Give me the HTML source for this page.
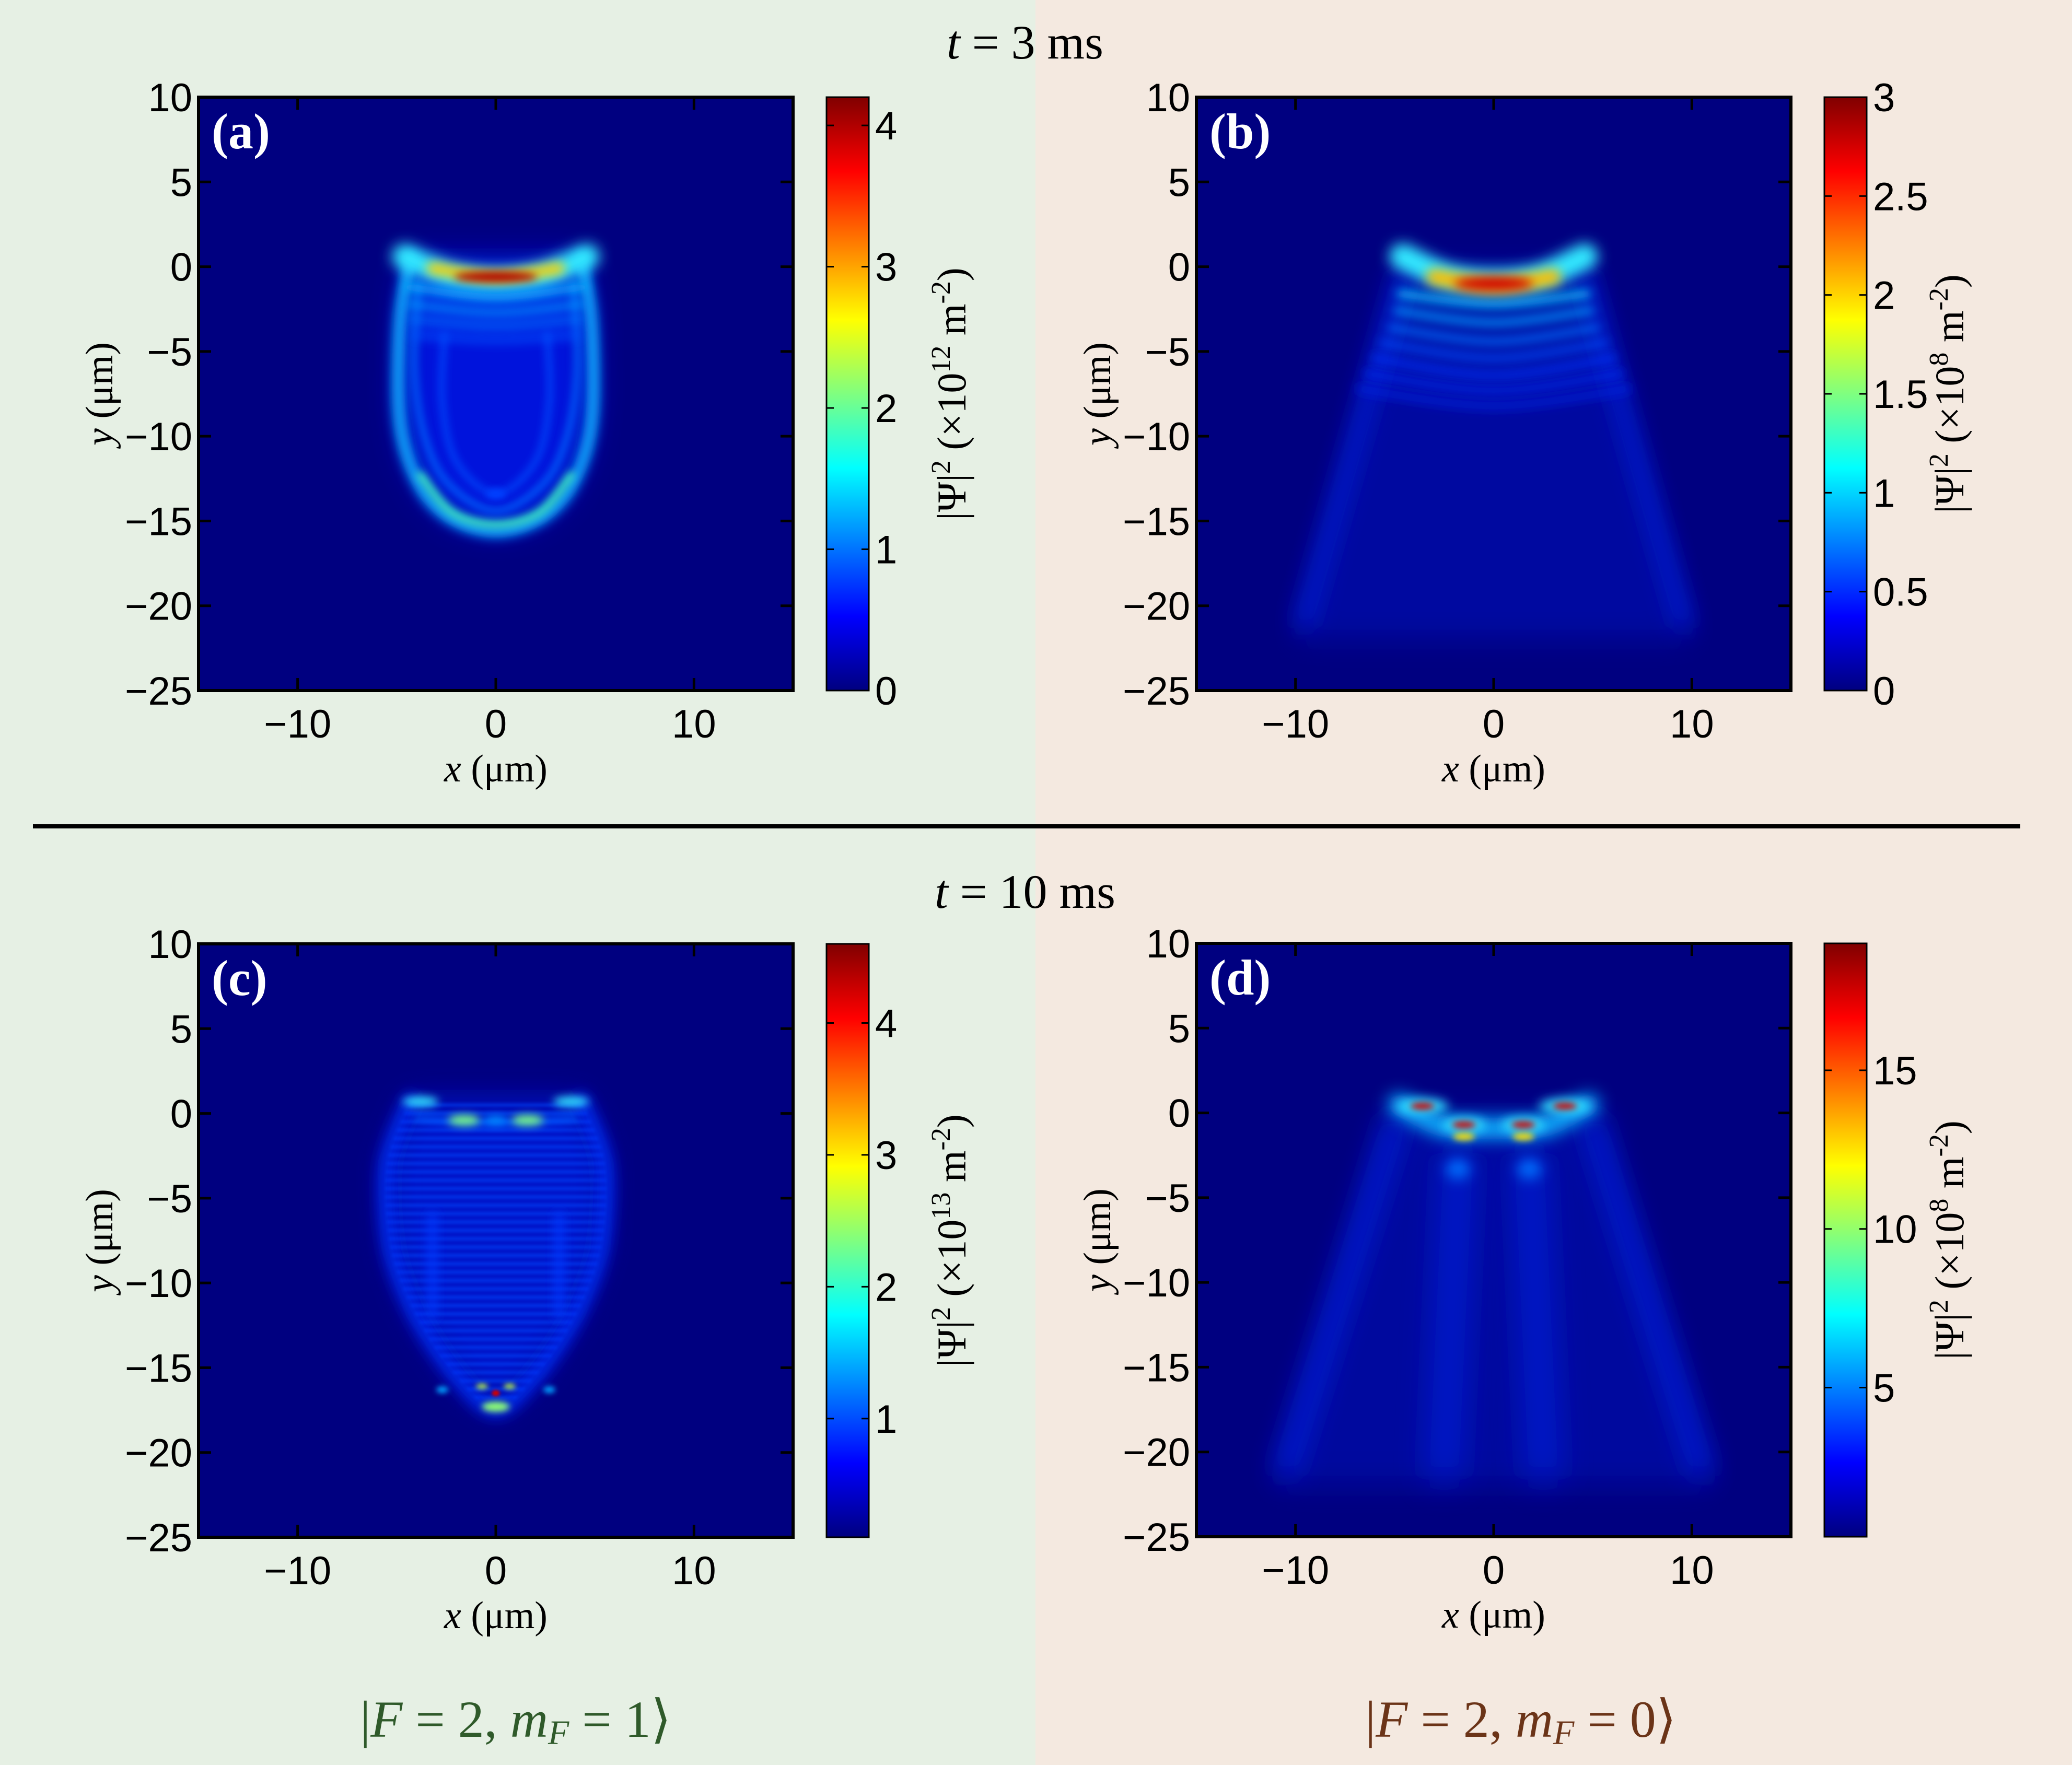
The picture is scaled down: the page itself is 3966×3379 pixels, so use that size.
<!DOCTYPE html>
<html><head><meta charset="utf-8"><style>
html,body{margin:0;padding:0;}
body{width:3966px;height:3379px;overflow:hidden;}
svg{display:block;}
.tk{font-family:"Liberation Sans",sans-serif;font-size:76px;fill:#000;}
.ser{font-family:"Liberation Serif",serif;fill:#000;}
</style></head><body>
<svg id="root" width="3966" height="3379" viewBox="0 0 3966 3379" xmlns="http://www.w3.org/2000/svg">
<defs>
<linearGradient id="jet" x1="0" y1="1" x2="0" y2="0">
<stop offset="0" stop-color="#000080"/><stop offset="0.125" stop-color="#0000ff"/>
<stop offset="0.375" stop-color="#00ffff"/><stop offset="0.625" stop-color="#ffff00"/>
<stop offset="0.875" stop-color="#ff0000"/><stop offset="1" stop-color="#800000"/>
</linearGradient>
<pattern id="stripes" width="20" height="16" patternUnits="userSpaceOnUse">
<rect width="20" height="7" fill="#0048ff" opacity="0.55"/>
</pattern>
</defs>
<rect x="0" y="0" width="1982" height="3379" fill="#e6f0e4"/>
<rect x="1982" y="0" width="1984" height="3379" fill="#f4e9e0"/>
<text class="ser" x="1962" y="112" font-size="92" text-anchor="middle"><tspan font-style="italic">t</tspan> = 3 ms</text>
<line x1="63" y1="1582" x2="3867" y2="1582" stroke="#000" stroke-width="8"/>
<text class="ser" x="1962" y="1738" font-size="92" text-anchor="middle"><tspan font-style="italic">t</tspan> = 10 ms</text>
<text class="ser" x="987" y="3325" font-size="100" text-anchor="middle" style="fill:#2f5a2a">|<tspan font-style="italic">F</tspan> = 2, <tspan font-style="italic">m</tspan><tspan font-style="italic" font-size="66" dy="14">F</tspan><tspan dy="-14"> = 1⟩</tspan></text>
<text class="ser" x="2911" y="3325" font-size="100" text-anchor="middle" style="fill:#6b3418">|<tspan font-style="italic">F</tspan> = 2, <tspan font-style="italic">m</tspan><tspan font-style="italic" font-size="66" dy="14">F</tspan><tspan dy="-14"> = 0⟩</tspan></text>
</svg>
<script>
const xTicks=[-10,0,10];
const yTicks=[10,5,0,-5,-10,-15,-20,-25];
const panelLabels=["(a)","(b)","(c)","(d)"];
const cbMin=[0,0,0.1,0.3];
const cbMax=[4.2,3.0,4.6,19];
const cbTicksA=[0,1,2,3,4];
const cbTicksB=[0,0.5,1,1.5,2,2.5,3];
const cbTicksC=[1,2,3,4];
const cbTicksD=[5,10,15];
const cbExp=["12","8","13","8"];
const aLines=[
 {pts:[[-4.3,0.5],[-4.8,-3],[-4.9,-8],[-4.5,-11],[-3.5,-13.5],[-2,-15],[0,-15.6],[2,-15],[3.5,-13.5],[4.5,-11],[4.9,-8],[4.8,-3],[4.3,0.5]],c:"#10a8ff",w:24,b:6},
 {pts:[[-3.8,-12.3],[-2.2,-14.5],[0,-15.2],[2.2,-14.5],[3.8,-12.3]],c:"#40f0c0",w:14,b:5},
 {pts:[[-3.9,-1],[-4.1,-6],[-3.6,-10],[-2.4,-12.8],[0,-14.4],[2.4,-12.8],[3.6,-10],[4.1,-6],[3.9,-1]],c:"#0068ff",w:11,b:5},
 {pts:[[-2.6,-4],[-2.7,-8],[-2,-11.5],[0,-13.4],[2,-11.5],[2.7,-8],[2.6,-4]],c:"#0050ff",w:9,b:5},
 {pts:[[-4.6,0.6],[-2.3,-0.5],[0,-0.8],[2.3,-0.5],[4.6,0.6]],c:"#30e8ff",w:48,b:8},
 {pts:[[-4.4,-1.2],[0,-1.8],[4.4,-1.2]],c:"#10b8ff",w:16,b:6},
 {pts:[[-4.4,-2.2],[0,-2.7],[4.4,-2.2]],c:"#0098ff",w:14,b:6},
 {pts:[[-4.3,-3.1],[0,-3.5],[4.3,-3.1]],c:"#0078ff",w:12,b:6},
 {pts:[[-4.2,-4],[0,-4.3],[4.2,-4]],c:"#0058ff",w:10,b:6},
 {pts:[[-3.2,-0.1],[0,-0.6],[3.2,-0.1]],c:"#ffd000",w:22,b:6}
];
const aBlobs=[{x:0,y:-0.6,rx:2.1,ry:0.32,c:"#b00000",b:5},{x:0,y:-13.4,rx:0.5,ry:0.3,c:"#0040ff",b:4}];
const aFill=[[-4.3,0.5],[-4.8,-3],[-4.9,-8],[-4.5,-11],[-3.5,-13.5],[-2,-15],[0,-15.6],[2,-15],[3.5,-13.5],[4.5,-11],[4.9,-8],[4.8,-3],[4.3,0.5]];
const bFill=[[-4.5,0],[4.5,0],[10,-22],[-10,-22]];
const bLines=[
 {pts:[[-4.6,-0.5],[-9.6,-21]],c:"#0028f0",w:22,b:14},
 {pts:[[4.6,-0.5],[9.6,-21]],c:"#0028f0",w:22,b:14},
 {pts:[[-6.8,-7.2],[0,-8.2],[6.8,-7.2]],c:"#0024e0",w:12,b:6},
 {pts:[[-6.4,-6.3],[0,-7.3],[6.4,-6.3]],c:"#002cf0",w:12,b:6},
 {pts:[[-6,-5.4],[0,-6.4],[6,-5.4]],c:"#0038ff",w:12,b:6},
 {pts:[[-5.6,-4.5],[0,-5.4],[5.6,-4.5]],c:"#0050ff",w:12,b:6},
 {pts:[[-5.2,-3.6],[0,-4.4],[5.2,-3.6]],c:"#0070ff",w:13,b:6},
 {pts:[[-4.9,-2.6],[0,-3.3],[4.9,-2.6]],c:"#0098ff",w:14,b:6},
 {pts:[[-4.7,-1.6],[0,-2.2],[4.7,-1.6]],c:"#10c0ff",w:16,b:6},
 {pts:[[-4.6,0.6],[-2.3,-0.6],[0,-0.9],[2.3,-0.6],[4.6,0.6]],c:"#30e8ff",w:50,b:8},
 {pts:[[-3,-0.6],[0,-1.1],[3,-0.6]],c:"#ffc000",w:30,b:7}
];
const bBlobs=[{x:0,y:-1,rx:2,ry:0.42,c:"#d00000",b:6}];
const cFill=[[-4.3,0.8],[-5.5,-3],[-5.3,-8],[-4,-12],[-2,-15.5],[0,-17.5],[2,-15.5],[4,-12],[5.3,-8],[5.5,-3],[4.3,0.8]];
const cLines=[
 {pts:[[-4.3,0.8],[-5.5,-3],[-5.3,-8],[-4,-12],[-2,-15.5],[0,-17.5],[2,-15.5],[4,-12],[5.3,-8],[5.5,-3],[4.3,0.8]],c:"#0030ff",w:22,b:9},
 {pts:[[-3.2,-6],[-3.2,-12]],c:"#0038ff",w:14,b:6},
 {pts:[[3.2,-6],[3.2,-12]],c:"#0038ff",w:14,b:6},
 {pts:[[-4,-0.3],[0,-0.6],[4,-0.3]],c:"#0058ff",w:12,b:5}
];
const cBlobs=[
 {x:-3.8,y:0.7,rx:0.9,ry:0.3,c:"#30e0ff",b:5},{x:3.8,y:0.7,rx:0.9,ry:0.3,c:"#30e0ff",b:5},
 {x:-1.6,y:-0.4,rx:0.8,ry:0.3,c:"#80ff80",b:5},{x:1.6,y:-0.4,rx:0.8,ry:0.3,c:"#80ff80",b:5},
 {x:0,y:-0.4,rx:0.6,ry:0.25,c:"#0090ff",b:5},
 {x:0,y:-17.3,rx:0.7,ry:0.3,c:"#90ff70",b:4},{x:0,y:-16.5,rx:0.2,ry:0.18,c:"#d00000",b:2},
 {x:-0.7,y:-16.1,rx:0.3,ry:0.15,c:"#c0ff40",b:3},{x:0.7,y:-16.1,rx:0.3,ry:0.15,c:"#c0ff40",b:3},
 {x:-2.7,y:-16.3,rx:0.3,ry:0.2,c:"#00a0ff",b:3},{x:2.7,y:-16.3,rx:0.3,ry:0.2,c:"#00a0ff",b:3}
];
const dFill=[[-5,0],[5,0],[11,-22],[-11,-22]];
const dLines=[
 {pts:[[-5,-0.5],[-10.5,-21]],c:"#0028f0",w:30,b:16},
 {pts:[[5,-0.5],[10.5,-21]],c:"#0028f0",w:30,b:16},
 {pts:[[-1.8,-3],[-2.5,-21]],c:"#0020e0",w:44,b:20},
 {pts:[[1.8,-3],[2.5,-21]],c:"#0020e0",w:44,b:20},
 {pts:[[-4.8,0.5],[-2.5,-0.8],[0,-0.9],[2.5,-0.8],[4.8,0.5]],c:"#10b0ff",w:40,b:10}
];
const dBlobs=[
 {x:-3.6,y:0.4,rx:1.3,ry:0.45,c:"#30e0ff",b:6},{x:3.6,y:0.4,rx:1.3,ry:0.45,c:"#30e0ff",b:6},
 {x:-1.5,y:-0.7,rx:1.1,ry:0.45,c:"#30e0ff",b:6},{x:1.5,y:-0.7,rx:1.1,ry:0.45,c:"#30e0ff",b:6},
 {x:-1.5,y:-1.4,rx:0.55,ry:0.22,c:"#ffe000",b:4},{x:1.5,y:-1.4,rx:0.55,ry:0.22,c:"#ffe000",b:4},
 {x:-3.6,y:0.4,rx:0.6,ry:0.2,c:"#d00000",b:4},{x:3.6,y:0.4,rx:0.6,ry:0.2,c:"#d00000",b:4},
 {x:-1.5,y:-0.7,rx:0.6,ry:0.2,c:"#d00000",b:4},{x:1.5,y:-0.7,rx:0.6,ry:0.2,c:"#d00000",b:4},
 {x:-1.8,y:-3.3,rx:0.6,ry:0.6,c:"#0070ff",b:8},{x:1.8,y:-3.3,rx:0.6,ry:0.6,c:"#0070ff",b:8}
];

const NS="http://www.w3.org/2000/svg";
const root=document.getElementById('root');
const defs=root.querySelector('defs');
const W=1138,H=1136, BM=1.6;
const panels=[
 {x0:380,y0:186,fill:aFill,fillC:"#0014e6",fo:0.9,lines:aLines,blobs:aBlobs,cb:cbTicksA,stripes:false},
 {x0:2290,y0:186,fill:bFill,fillC:"#0016c8",fo:0.45,lines:bLines,blobs:bBlobs,cb:cbTicksB,stripes:false},
 {x0:380,y0:1807,fill:cFill,fillC:"#0012d0",fo:0.9,lines:cLines,blobs:cBlobs,cb:cbTicksC,stripes:true},
 {x0:2290,y0:1806,fill:dFill,fillC:"#0016c4",fo:0.45,lines:dLines,blobs:dBlobs,cb:cbTicksD,stripes:false}
];
function mk(tag,attrs,parent){const e=document.createElementNS(NS,tag);for(const k in attrs)e.setAttribute(k,attrs[k]);(parent||root).appendChild(e);return e;}
const blurs={};
function blurId(b){b=Math.round(b*BM);if(!blurs[b]){const f=mk('filter',{id:'bl'+b,filterUnits:'userSpaceOnUse',x:0,y:0,width:3966,height:3379},defs);mk('feGaussianBlur',{stdDeviation:b},f);blurs[b]='bl'+b;}return 'url(#'+blurs[b]+')';}
function smoothPath(P){if(P.length<3)return 'M'+P.map(p=>p.join(',')).join(' L');let d='M'+P[0][0]+','+P[0][1];for(let i=0;i<P.length-1;i++){const p0=P[Math.max(0,i-1)],p1=P[i],p2=P[i+1],p3=P[Math.min(P.length-1,i+2)];const c1=[p1[0]+(p2[0]-p0[0])/6,p1[1]+(p2[1]-p0[1])/6],c2=[p2[0]-(p3[0]-p1[0])/6,p2[1]-(p3[1]-p1[1])/6];d+=' C'+c1+' '+c2+' '+p2;}return d;}

panels.forEach((p,i)=>{
 const sx=x=>p.x0+(x+15)/30*W, sy=y=>p.y0+(10-y)/35*H;
 const g=mk('g',{});
 
 
 const cp=mk('clipPath',{id:'clip'+i},defs);mk('rect',{x:p.x0,y:p.y0,width:W,height:H},cp);
 const bg=mk('rect',{x:p.x0,y:p.y0,width:W,height:H,fill:'#000080'},g);
 
 
 const hm=mk('g',{'clip-path':'url(#clip'+i+')'},g);
 
 
 const fpts=p.fill.map(q=>[sx(q[0]),sy(q[1])]);
 mk('path',{d:'M'+fpts.map(q=>q.join(',')).join(' L')+' Z',fill:p.fillC,filter:blurId(18),opacity:p.fo},hm);
 if(p.stripes){mk('path',{d:smoothPath(fpts)+' Z',fill:'url(#stripes)',filter:blurId(2)},hm);}
 p.lines.forEach(l=>{const pts=l.pts.map(q=>[sx(q[0]),sy(q[1])]);
  const e=mk('path',{d:smoothPath(pts),fill:'none',stroke:l.c,'stroke-width':l.w,'stroke-linecap':'round','stroke-linejoin':'round',filter:blurId(l.b)},hm);
  
  });
 p.blobs.forEach(b=>{const e=mk('ellipse',{cx:sx(b.x),cy:sy(b.y),rx:b.rx/30*W,ry:b.ry/35*H,fill:b.c,filter:blurId(b.b)},hm);
  
  });
 mk('rect',{x:p.x0,y:p.y0,width:W,height:H,fill:'none',stroke:'#000','stroke-width':6},g);
 xTicks.forEach(t=>{const X=sx(t);
  mk('line',{x1:X,y1:p.y0,x2:X,y2:p.y0+24,stroke:'#000','stroke-width':5},g);
  mk('line',{x1:X,y1:p.y0+H,x2:X,y2:p.y0+H-24,stroke:'#000','stroke-width':5},g);
  const tx=mk('text',{x:X,y:p.y0+H+90,'text-anchor':'middle',class:'tk'},g);tx.textContent=(t<0?'−':'')+Math.abs(t);
  
  });
 yTicks.forEach(t=>{const Y=sy(t);
  mk('line',{x1:p.x0,y1:Y,x2:p.x0+24,y2:Y,stroke:'#000','stroke-width':5},g);
  mk('line',{x1:p.x0+W,y1:Y,x2:p.x0+W-24,y2:Y,stroke:'#000','stroke-width':5},g);
  const tx=mk('text',{x:p.x0-12,y:Y+27,'text-anchor':'end',class:'tk'},g);tx.textContent=(t<0?'−':'')+Math.abs(t);
  
  });
 const lab=mk('text',{x:p.x0+25,y:p.y0+98,'font-family':'Liberation Serif,serif','font-weight':'bold','font-size':96,fill:'#fff'},g);lab.textContent=panelLabels[i];
 
 
 const xt=mk('text',{x:p.x0+W/2,y:p.y0+H+174,'text-anchor':'middle',class:'ser','font-size':74},g);
 xt.innerHTML='<tspan font-style="italic">x</tspan> (μm)';
 
 
 const yx=p.x0-165, yc=p.y0+H/2;
 const yt=mk('text',{x:yx,y:yc,'text-anchor':'middle',class:'ser','font-size':74,transform:'rotate(-90 '+yx+' '+yc+')'},g);
 yt.innerHTML='<tspan font-style="italic">y</tspan> (μm)';
 
 
 const cx=p.x0+1202, cw=81;
 const cbs=v=>p.y0+H-(v-cbMin[i])/(cbMax[i]-cbMin[i])*H;
 const cb=mk('rect',{x:cx,y:p.y0,width:cw,height:H,fill:'url(#jet)',stroke:'#000','stroke-width':3},g);
 
 
 p.cb.forEach(t=>{const Y=cbs(t);
  mk('line',{x1:cx,y1:Y,x2:cx+14,y2:Y,stroke:'#000','stroke-width':3},g);
  mk('line',{x1:cx+cw,y1:Y,x2:cx+cw-14,y2:Y,stroke:'#000','stroke-width':3},g);
  const tx=mk('text',{x:cx+cw+12,y:Y+27,class:'tk'},g);tx.textContent=t;
  
  });
 const lx=cx+cw+185;
 const ct=mk('text',{x:lx,y:yc,'text-anchor':'middle',class:'ser','font-size':78,transform:'rotate(-90 '+lx+' '+yc+')'},g);
 ct.innerHTML='|Ψ|<tspan dy="-30" font-size="52">2</tspan><tspan dy="30"> (×10</tspan><tspan dy="-30" font-size="52">'+cbExp[i]+'</tspan><tspan dy="30"> m</tspan><tspan dy="-30" font-size="52">-2</tspan><tspan dy="30">)</tspan>';
 
 
});
</script>
</body></html>
